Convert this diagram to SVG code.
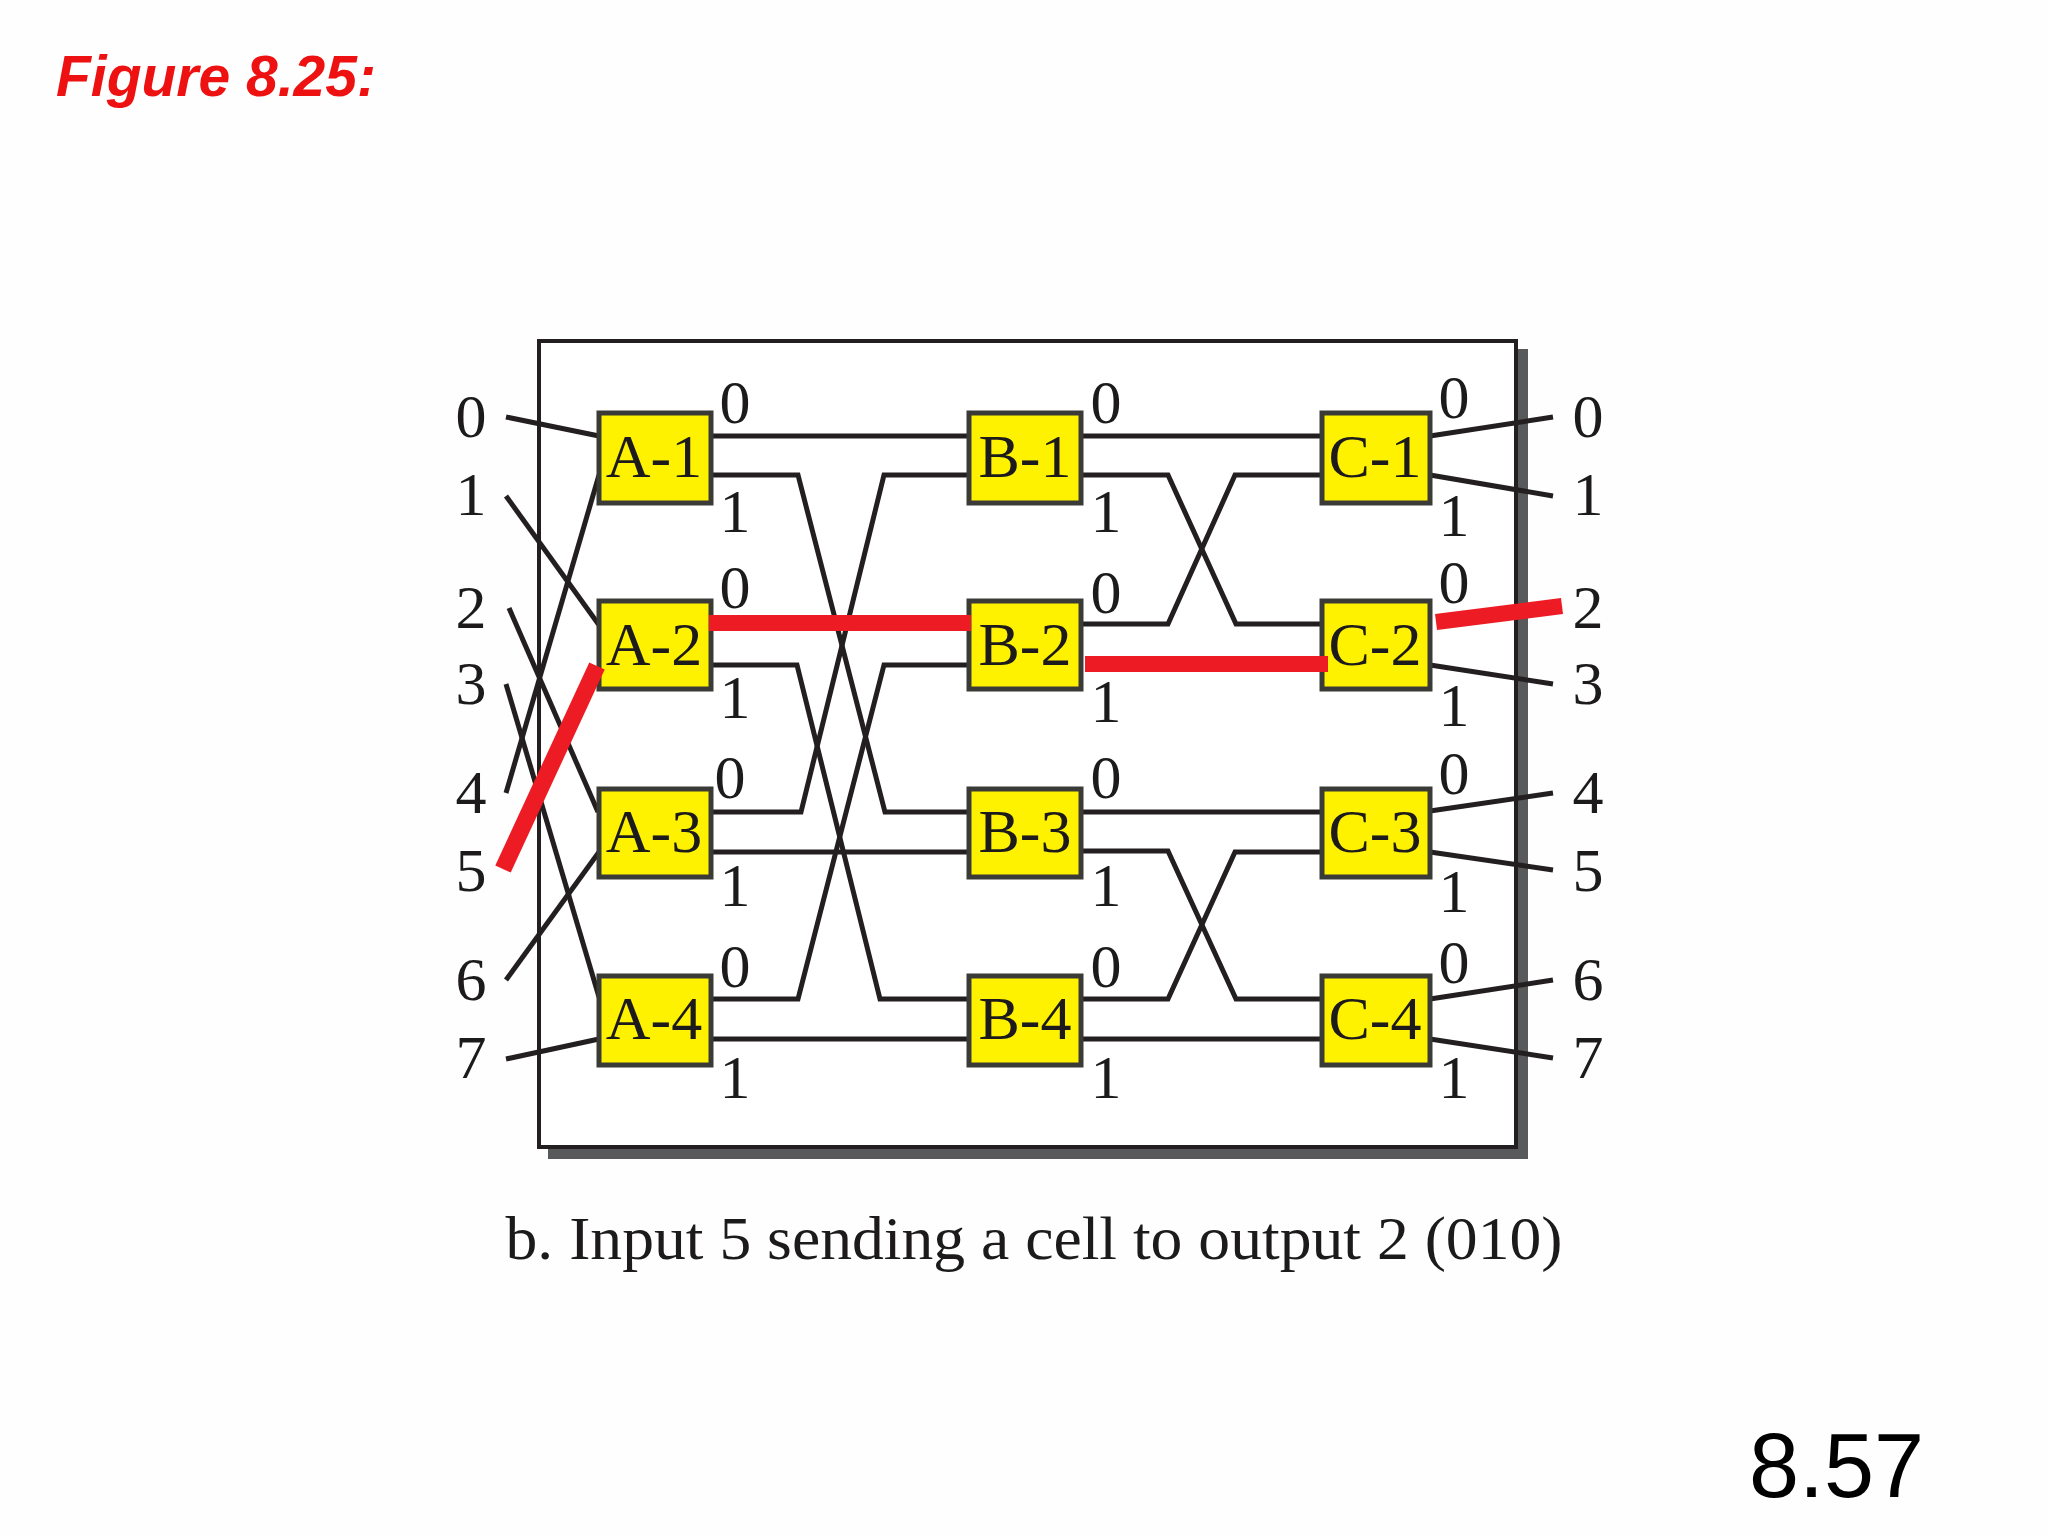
<svg xmlns="http://www.w3.org/2000/svg" width="2048" height="1536" viewBox="0 0 2048 1536">
<style>
.w{fill:none;stroke:#231f20;stroke-width:5;stroke-linejoin:miter}
.r{fill:none;stroke:#ed1c24;stroke-width:16}
.b{fill:#fff200;stroke:#3a3a36;stroke-width:5}
.t{font-family:"Liberation Serif","Times New Roman",serif;fill:#1c1a1b;text-anchor:middle}
.n{font-size:62px}
</style>
<rect width="2048" height="1536" fill="#fefefe"/>
<text x="56" y="96" font-family="'Liberation Sans',Arial,sans-serif" font-size="57" font-weight="bold" font-style="italic" fill="#ee1111">Figure 8.25:</text>
<text x="1749" y="1497" font-family="'Liberation Sans',Arial,sans-serif" font-size="90" fill="#000">8.57</text>
<g id="frame">
<rect x="548" y="349" width="980" height="810" fill="#58595b"/>
<rect x="539" y="341" width="977" height="806" fill="#fff" stroke="#231f20" stroke-width="4"/>
</g>
<g id="connectors">
<path class="w" d="M506 417L599 436"/>
<path class="w" d="M506 496L599 625"/>
<path class="w" d="M509 608L598 812"/>
<path class="w" d="M506 684L599 997"/>
<path class="w" d="M506 793L599 475"/>
<path class="w" d="M506 980L599 852"/>
<path class="w" d="M506 1059L599 1039"/>
<path class="w" d="M711 436H969"/>
<path class="w" d="M711 475H798L885 812H969"/>
<path class="w" d="M969 475H884L801 812H711"/>
<path class="w" d="M711 665H797L880 999H969"/>
<path class="w" d="M711 999H798L884 665H969"/>
<path class="w" d="M711 852H969"/>
<path class="w" d="M711 1039H969"/>
<path class="w" d="M1081 436H1322"/>
<path class="w" d="M1081 475H1168L1236 624H1322"/>
<path class="w" d="M1081 624H1168L1235 475H1322"/>
<path class="w" d="M1081 812H1322"/>
<path class="w" d="M1081 851H1168L1236 999H1322"/>
<path class="w" d="M1081 999H1168L1235 852H1322"/>
<path class="w" d="M1081 1039H1322"/>
<path class="w" d="M1430 436L1553 417"/>
<path class="w" d="M1430 475L1553 496"/>
<path class="w" d="M1430 665L1553 684"/>
<path class="w" d="M1430 811L1553 793"/>
<path class="w" d="M1430 852L1553 870"/>
<path class="w" d="M1430 999L1553 980"/>
<path class="w" d="M1430 1039L1553 1058"/>
</g>
<g id="A-1"><rect class="b" x="599" y="413" width="112" height="90"/><text class="t n" x="654" y="477">A-1</text></g>
<g id="A-2"><rect class="b" x="599" y="601" width="112" height="88"/><text class="t n" x="654" y="665">A-2</text></g>
<g id="A-3"><rect class="b" x="599" y="789" width="112" height="88"/><text class="t n" x="654" y="852">A-3</text></g>
<g id="A-4"><rect class="b" x="599" y="976" width="112" height="89"/><text class="t n" x="654" y="1039">A-4</text></g>
<g id="B-1"><rect class="b" x="969" y="413" width="112" height="90"/><text class="t n" x="1025" y="477">B-1</text></g>
<g id="B-2"><rect class="b" x="969" y="601" width="112" height="88"/><text class="t n" x="1025" y="665">B-2</text></g>
<g id="B-3"><rect class="b" x="969" y="789" width="112" height="88"/><text class="t n" x="1025" y="852">B-3</text></g>
<g id="B-4"><rect class="b" x="969" y="976" width="112" height="89"/><text class="t n" x="1025" y="1039">B-4</text></g>
<g id="C-1"><rect class="b" x="1322" y="413" width="108" height="90"/><text class="t n" x="1375" y="477">C-1</text></g>
<g id="C-2"><rect class="b" x="1322" y="601" width="108" height="88"/><text class="t n" x="1375" y="665">C-2</text></g>
<g id="C-3"><rect class="b" x="1322" y="789" width="108" height="88"/><text class="t n" x="1375" y="852">C-3</text></g>
<g id="C-4"><rect class="b" x="1322" y="976" width="108" height="89"/><text class="t n" x="1375" y="1039">C-4</text></g>
<g id="route">
<path class="r" d="M503 869L597 666" style="stroke-width:17"/>
<path class="r" d="M709 623H971"/>
<path class="r" d="M1085 664H1328"/>
<path class="r" d="M1436 622L1562 606"/>
</g>
<g id="labels" class="t n">
<text x="471" y="437">0</text><text x="471" y="515">1</text><text x="471" y="628">2</text><text x="471" y="704">3</text><text x="471" y="813">4</text><text x="471" y="891">5</text><text x="471" y="1000">6</text><text x="471" y="1078">7</text>
<text x="1588" y="437">0</text><text x="1588" y="515">1</text><text x="1588" y="628">2</text><text x="1588" y="704">3</text><text x="1588" y="813">4</text><text x="1588" y="891">5</text><text x="1588" y="1000">6</text><text x="1588" y="1078">7</text>
<text x="735" y="423">0</text><text x="735" y="532">1</text><text x="735" y="608">0</text><text x="735" y="718">1</text><text x="730" y="798">0</text><text x="735" y="906">1</text><text x="735" y="987">0</text><text x="735" y="1098">1</text>
<text x="1106" y="423">0</text><text x="1106" y="532">1</text><text x="1106" y="613">0</text><text x="1106" y="722">1</text><text x="1106" y="798">0</text><text x="1106" y="906">1</text><text x="1106" y="987">0</text><text x="1106" y="1098">1</text>
<text x="1454" y="418">0</text><text x="1454" y="536">1</text><text x="1454" y="603">0</text><text x="1454" y="726">1</text><text x="1454" y="794">0</text><text x="1454" y="912">1</text><text x="1454" y="983">0</text><text x="1454" y="1098">1</text>
</g>
<text class="t" x="1034" y="1259" font-size="62" textLength="1057" lengthAdjust="spacingAndGlyphs">b. Input 5 sending a cell to output 2 (010)</text>
</svg>
